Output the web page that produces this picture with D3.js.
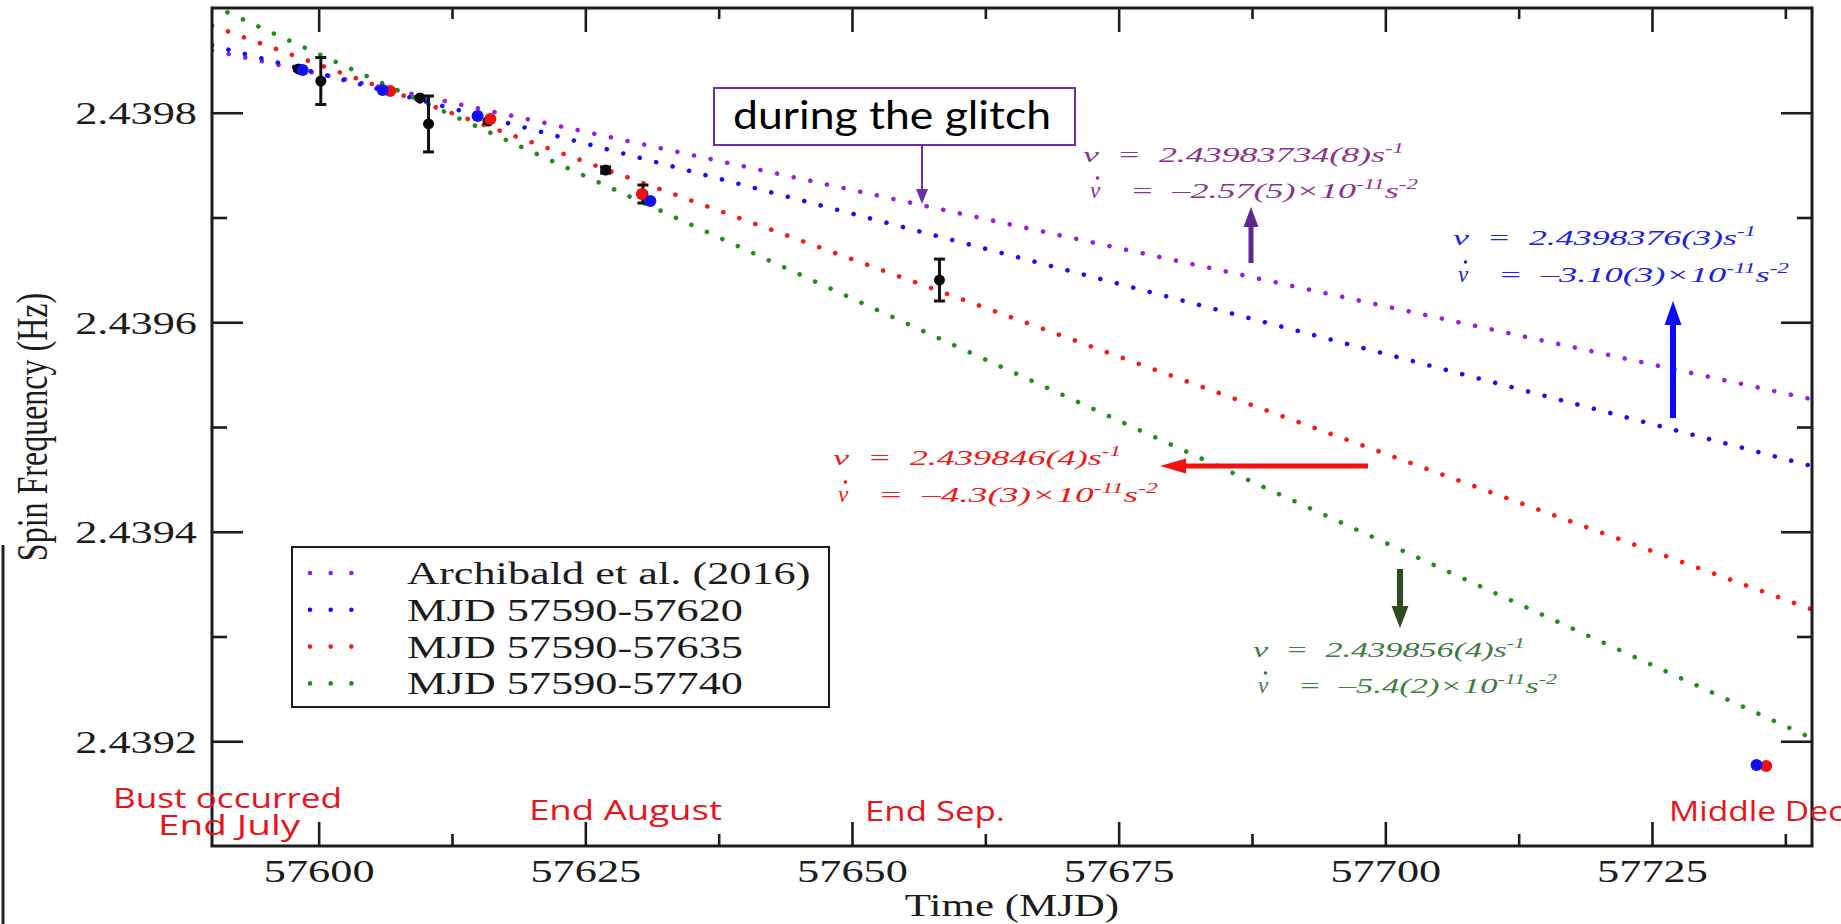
<!DOCTYPE html>
<html>
<head>
<meta charset="utf-8">
<script src="https://cdn.jsdelivr.net/npm/d3@7"></script>
<style>
  html, body { margin: 0; padding: 0; background: #fff; }
  svg { display: block; }
</style>
</head>
<body>
<svg id="chart" width="1841" height="924"></svg>
<script>
// ---- axes ----
const xDomain = [57590, 57740];
const yDomain = [2.4391, 2.4399];
const xMajorTicks = [57600, 57625, 57650, 57675, 57700, 57725];
const xMinorTicks = [57612.5, 57637.5, 57662.5, 57687.5, 57712.5, 57737.5];
const yMajorTicks = [2.4392, 2.4394, 2.4396, 2.4398];
const yMinorTicks = [2.4393, 2.4395, 2.4397];

// ---- timing fits: nu(t) = nu + nudot * (t - epoch) ----
const fitNames   = ["Archibald et al. (2016)", "MJD 57590-57620", "MJD 57590-57635", "MJD 57590-57740"];
const fitNu      = [2.43983734, 2.4398376, 2.439846, 2.439856];
const fitNuDot   = [-2.57e-11, -3.10e-11, -4.3e-11, -5.4e-11];
const fitNuText  = ["2.43983734(8)", "2.4398376(3)", "2.439846(4)", "2.439856(4)"];
const fitDotText = ["\u20132.57(5)", "\u20133.10(3)", "\u20134.3(3)", "\u20135.4(2)"];
const fitEpoch   = 57600;

// ---- measured spin frequencies ----
const blackMJD = [57598.1, 57600.2, 57609.5, 57610.3, 57615.9, 57626.9, 57630.4, 57658.2];
const blackNu  = [2.4398418, 2.4398303, 2.4398141, 2.4397893, 2.4397921, 2.4397453, 2.4397224, 2.4396403];
const blackErr = [0.0000010, 0.0000224, 0.0000015, 0.0000267, 0.0000010, 0.0000030, 0.0000086, 0.0000200];
const redMJD   = [57606.7, 57616.1, 57630.3, 57735.7];
const redNu    = [2.4398208, 2.4397940, 2.4397224, 2.4391764];
const blueMJD  = [57598.5, 57606.0, 57614.9, 57631.1, 57734.8];
const blueNu   = [2.4398408, 2.4398217, 2.4397969, 2.4397158, 2.4391773];

// ---- epoch notes along the time axis ----
const noteText = ["Bust occurred", "End July", "End August", "End Sep.", "Middle Dec."];

const fitColors  = ["#9a1fdc", "#1010f5", "#f21a1a", "#1c8f1c"];
const textColors = ["#8c348c", "#2020e0", "#f01818", "#3f7c3f"];

const svg = d3.select("#chart");
const plot = { left: 212, right: 1812, top: 8, bottom: 846 };
const x = d3.scaleLinear().domain(xDomain).range([plot.left, plot.right]);
const y = d3.scaleLinear().domain(yDomain).range([plot.bottom, plot.top]);

const SERIF = "'Liberation Serif','Times New Roman',serif";
const STRETCH = 1.385;   // the figure's serif lettering is drawn wide
const INK = "#1c1c1c";

svg.append("defs").append("clipPath").attr("id", "plotClip")
  .append("rect")
  .attr("x", plot.left).attr("y", plot.top)
  .attr("width", plot.right - plot.left).attr("height", plot.bottom - plot.top);

// edge rule at far left
svg.append("line")
  .attr("x1", 3).attr("x2", 3).attr("y1", 545).attr("y2", 924)
  .attr("stroke", "#222").attr("stroke-width", 3);

// ---- fit lines (dotted) ----
const gLines = svg.append("g").attr("clip-path", "url(#plotClip)");
const lineGen = d3.line().x(d => x(d[0])).y(d => y(d[1]));
fitNu.forEach((nu0, i) => {
  const pts = xDomain.map(t => [t, nu0 + fitNuDot[i] * (t - fitEpoch) * 86400]);
  gLines.append("path")
    .attr("d", lineGen(pts))
    .attr("fill", "none")
    .attr("stroke", fitColors[i])
    .attr("stroke-width", 4.6)
    .attr("stroke-linecap", "round")
    .attr("stroke-dasharray", "0.01 17");
});

// ---- data points ----
const gPts = svg.append("g").attr("clip-path", "url(#plotClip)");
blackMJD.forEach((t, i) => {
  const cx = x(t), y1 = y(blackNu[i] + blackErr[i]), y2 = y(blackNu[i] - blackErr[i]);
  gPts.append("line").attr("x1", cx).attr("x2", cx).attr("y1", y1).attr("y2", y2)
    .attr("stroke", "#111").attr("stroke-width", 3);
  [y1, y2].forEach(yy => gPts.append("line")
    .attr("x1", cx - 5.5).attr("x2", cx + 5.5).attr("y1", yy).attr("y2", yy)
    .attr("stroke", "#111").attr("stroke-width", 3));
  gPts.append("circle").attr("cx", cx).attr("cy", y(blackNu[i])).attr("r", 5.5).attr("fill", "#0a0a0a");
});
redMJD.forEach((t, i) => gPts.append("circle")
  .attr("cx", x(t)).attr("cy", y(redNu[i])).attr("r", 6).attr("fill", "#f01010"));
blueMJD.forEach((t, i) => gPts.append("circle")
  .attr("cx", x(t)).attr("cy", y(blueNu[i])).attr("r", 6).attr("fill", "#1010f0"));

// ---- frame and ticks ----
function styleAxis(g) {
  g.select(".domain").remove();
  g.selectAll(".tick line").attr("stroke", INK).attr("stroke-width", 2.6);
}
const axisBottom = svg.append("g").attr("transform", `translate(0,${plot.bottom})`)
  .call(d3.axisBottom(x).tickValues(xMajorTicks).tickSize(-24).tickSizeOuter(0).tickFormat(d3.format("d")));
styleAxis(axisBottom);
axisBottom.selectAll(".tick text")
  .attr("x", 0).attr("y", 0).attr("dy", null)
  .attr("transform", `translate(0,36) scale(${STRETCH},1)`)
  .attr("fill", INK).attr("font-family", SERIF).attr("font-size", 32).attr("text-anchor", "middle");

svg.append("g").attr("transform", `translate(0,${plot.bottom})`)
  .call(d3.axisBottom(x).tickValues(xMinorTicks).tickSize(-12).tickSizeOuter(0).tickFormat(""))
  .call(styleAxis);
svg.append("g").attr("transform", `translate(0,${plot.top})`)
  .call(d3.axisTop(x).tickValues(xMajorTicks).tickSize(-24).tickSizeOuter(0).tickFormat(""))
  .call(styleAxis);
svg.append("g").attr("transform", `translate(0,${plot.top})`)
  .call(d3.axisTop(x).tickValues(xMinorTicks).tickSize(-11).tickSizeOuter(0).tickFormat(""))
  .call(styleAxis);

const axisLeft = svg.append("g").attr("transform", `translate(${plot.left},0)`)
  .call(d3.axisLeft(y).tickValues(yMajorTicks).tickSize(-31).tickSizeOuter(0).tickFormat(d3.format(".4f")));
styleAxis(axisLeft);
axisLeft.selectAll(".tick text")
  .attr("x", 0).attr("y", 0).attr("dy", null)
  .attr("transform", `translate(-15,11) scale(${STRETCH},1)`)
  .attr("fill", INK).attr("font-family", SERIF).attr("font-size", 32).attr("text-anchor", "end");
svg.append("g").attr("transform", `translate(${plot.left},0)`)
  .call(d3.axisLeft(y).tickValues(yMinorTicks).tickSize(-15).tickSizeOuter(0).tickFormat(""))
  .call(styleAxis);
svg.append("g").attr("transform", `translate(${plot.right},0)`)
  .call(d3.axisRight(y).tickValues(yMajorTicks).tickSize(-31).tickSizeOuter(0).tickFormat(""))
  .call(styleAxis);
svg.append("g").attr("transform", `translate(${plot.right},0)`)
  .call(d3.axisRight(y).tickValues(yMinorTicks).tickSize(-15).tickSizeOuter(0).tickFormat(""))
  .call(styleAxis);

svg.append("rect")
  .attr("x", plot.left).attr("y", plot.top)
  .attr("width", plot.right - plot.left).attr("height", plot.bottom - plot.top)
  .attr("fill", "none").attr("stroke", INK).attr("stroke-width", 3);

// axis titles
svg.append("text")
  .attr("transform", `translate(${(plot.left + plot.right) / 2},916) scale(${STRETCH},1)`)
  .attr("text-anchor", "middle").attr("font-family", SERIF).attr("font-size", 31).attr("fill", INK)
  .text("Time (MJD)");
svg.append("text")
  .attr("transform", `translate(47,${(plot.top + plot.bottom) / 2}) scale(${STRETCH},1) rotate(-90)`)
  .attr("text-anchor", "middle").attr("font-family", SERIF).attr("font-size", 32).attr("fill", INK)
  .text("Spin Frequency (Hz)");

// ---- legend ----
const legend = svg.append("g");
legend.append("rect").attr("x", 292).attr("y", 547).attr("width", 537).attr("height", 160)
  .attr("fill", "#fff").attr("stroke", INK).attr("stroke-width", 2);
fitNames.forEach((name, i) => {
  const ry = 573 + i * 36.8;
  legend.append("line").attr("x1", 310).attr("x2", 372.05).attr("y1", ry).attr("y2", ry)
    .attr("stroke", fitColors[i]).attr("stroke-width", 4.6).attr("stroke-linecap", "round")
    .attr("stroke-dasharray", "0.01 20.68");
  legend.append("text")
    .attr("transform", `translate(407,${ry + 11}) scale(${STRETCH},1)`)
    .attr("font-family", SERIF).attr("font-size", 32).attr("fill", INK)
    .text(name);
});

// ---- fit parameter annotations ----
function eqText(xp, yp, len, color, parts) {
  const t = svg.append("text")
    .attr("x", xp).attr("y", yp)
    .attr("fill", color)
    .attr("font-family", SERIF).attr("font-style", "italic").attr("font-size", 22)
    .attr("textLength", len).attr("lengthAdjust", "spacingAndGlyphs")
    .style("white-space", "pre");
  let shifted = false;
  parts.forEach(p => {
    const ts = t.append("tspan").text(p.t);
    if (p.sup && !shifted) { ts.attr("dy", -9).attr("font-size", 14); shifted = true; }
    else if (!p.sup && shifted) { ts.attr("dy", 9); shifted = false; }
    else if (p.sup) ts.attr("font-size", 14);
  });
  return t;
}
// nu-dot symbol: italic nu with a dot above
function nuDot(xp, yp, color) {
  svg.append("text").attr("x", xp).attr("y", yp).attr("fill", color)
    .attr("font-family", SERIF).attr("font-style", "italic").attr("font-size", 23)
    .text("\u03bd");
  svg.append("circle").attr("cx", xp + 7.5).attr("cy", yp - 20).attr("r", 1.8).attr("fill", color);
}
const eqLayout = [
  { l1: [1083, 162, 321], l2: [1090, 198, 328] },
  { l1: [1453, 245, 303], l2: [1458, 282, 331] },
  { l1: [833, 465, 288],  l2: [838, 502, 320] },
  { l1: [1253, 657, 272], l2: [1258, 693, 299] }
];
const EQ_GAP = 40;
eqLayout.forEach((L, i) => {
  eqText(L.l1[0], L.l1[1], L.l1[2], textColors[i], [
    { t: "\u03bd  =  " + fitNuText[i] + "s" }, { t: "-1", sup: true }
  ]);
  nuDot(L.l2[0], L.l2[1], textColors[i]);
  eqText(L.l2[0] + EQ_GAP, L.l2[1], L.l2[2] - EQ_GAP, textColors[i], [
    { t: "=  " + fitDotText[i] + "\u00d710" }, { t: "-11", sup: true },
    { t: "s" }, { t: "-2", sup: true }
  ]);
});

// block arrows pointing from each label to its fit line
function blockArrow(x1, y1, x2, y2, shaft, headW, headL, color) {
  const dx = x2 - x1, dy = y2 - y1, L = Math.hypot(dx, dy);
  const ux = dx / L, uy = dy / L, px = -uy, py = ux;
  const bx = x2 - ux * headL, by = y2 - uy * headL;
  const p = [
    [x1 + px * shaft / 2, y1 + py * shaft / 2],
    [bx + px * shaft / 2, by + py * shaft / 2],
    [bx + px * headW / 2, by + py * headW / 2],
    [x2, y2],
    [bx - px * headW / 2, by - py * headW / 2],
    [bx - px * shaft / 2, by - py * shaft / 2],
    [x1 - px * shaft / 2, y1 - py * shaft / 2]
  ];
  svg.append("path").attr("d", "M" + p.map(q => q.join(",")).join("L") + "Z").attr("fill", color);
}
blockArrow(1251, 263, 1251, 207, 5, 15, 20, "#5f288d");
blockArrow(1673, 418, 1673, 301, 6, 17, 24, "#0a0aff");
blockArrow(1368, 466, 1160, 466, 5, 15, 26, "#f21010");
blockArrow(1400, 569, 1400, 628, 6, 17, 22, "#2f4b21");

// ---- glitch call-out ----
svg.append("rect").attr("x", 714).attr("y", 88).attr("width", 361).attr("height", 57)
  .attr("fill", "#fff").attr("stroke", "#7030a0").attr("stroke-width", 2);
svg.append("text").attr("x", 733).attr("y", 129)
  .attr("font-family", "Lato, 'Open Sans', sans-serif").attr("font-size", 38).attr("fill", "#000")
  .attr("textLength", 318).attr("lengthAdjust", "spacingAndGlyphs")
  .text("during the glitch");
svg.append("line").attr("x1", 922).attr("x2", 922).attr("y1", 145).attr("y2", 190)
  .attr("stroke", "#7030a0").attr("stroke-width", 2);
svg.append("path").attr("d", "M916,189L928,189L922,204Z").attr("fill", "#7030a0");

// ---- epoch notes ----
const noteLayout = [
  [113, 808, 229], [158, 835, 142], [529, 820, 193], [865, 821, 140], [1669, 821, 184]
];
noteText.forEach((s, i) => {
  svg.append("text")
    .attr("x", noteLayout[i][0]).attr("y", noteLayout[i][1])
    .attr("font-family", "'Open Sans', 'DejaVu Sans', sans-serif").attr("font-size", 28)
    .attr("fill", "#e8141b")
    .attr("textLength", noteLayout[i][2]).attr("lengthAdjust", "spacingAndGlyphs")
    .text(s);
});
</script>
</body>
</html>
